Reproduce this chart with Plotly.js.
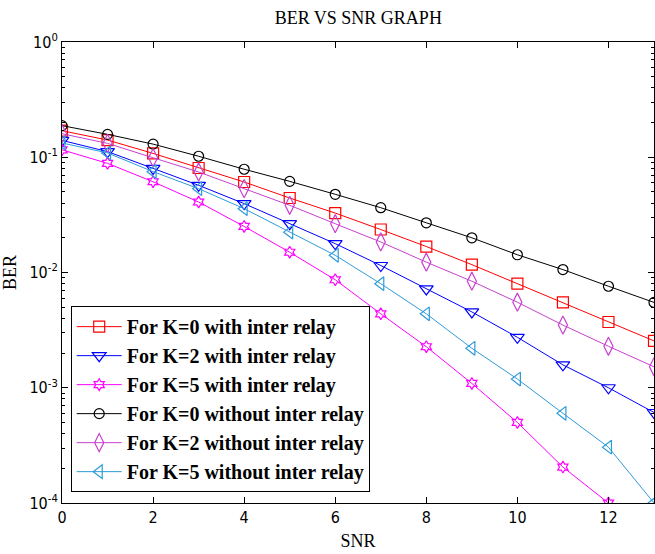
<!DOCTYPE html>
<html>
<head>
<meta charset="utf-8">
<script src="https://cdn.plot.ly/plotly-3.0.1.min.js"></script>
<style>html,body{margin:0;padding:0;background:#fff;}#chart{width:655px;height:554px;}</style>
</head>
<body>
<div id="chart"></div>
<script>
const snr = [0,1,2,3,4,5,6,7,8,9,10,11,12,13];
const snrK5with = [0,1,2,3,4,5,6,7,8,9,10,11,12];

const berK0with    = [0.170,0.141,0.108,0.0807,0.061,0.0443,0.0328,0.0236,0.0168,0.0117,0.0080,0.0055,0.00372,0.00255];
const berK2with    = [0.140,0.112,0.080,0.0571,0.0396,0.0265,0.0178,0.0115,0.0072,0.00455,0.00274,0.00158,0.00100,0.00061];
const berK5with    = [0.116,0.0885,0.0613,0.0409,0.0251,0.0150,0.00865,0.00438,0.00227,0.00109,0.00050,0.000205,0.000100];
const berK0without = [0.188,0.158,0.130,0.102,0.0787,0.0618,0.0477,0.0365,0.0270,0.0200,0.01425,0.0106,0.0076,0.0055];
const berK2without = [0.160,0.132,0.099,0.0745,0.0534,0.0383,0.0265,0.0184,0.0123,0.0084,0.00552,0.00350,0.00229,0.00152];
const berK5without = [0.133,0.109,0.075,0.0534,0.0358,0.0224,0.0141,0.0080,0.00438,0.0022,0.00119,0.00060,0.000305,0.000100];

const names = [
  'For K=0 with inter relay',
  'For K=2 with inter relay',
  'For K=5 with inter relay',
  'For K=0 without inter relay',
  'For K=2 without inter relay',
  'For K=5 without inter relay'
];

const yTickVals = [1e-4, 1e-3, 1e-2, 1e-1, 1];
const yTickText = ['10<sup>-4</sup>', '10<sup>-3</sup>', '10<sup>-2</sup>', '10<sup>-1</sup>', '10<sup>0</sup>'];
const yMinorVals = [];
[1e-4, 1e-3, 1e-2, 1e-1].forEach(function (d) { for (let k = 2; k <= 9; k++) yMinorVals.push(k * d); });

function tr(x, y, name, color, symbol, size, g) {
  return {
    x: x, y: y, name: name, type: 'scatter', mode: 'lines+markers',
    legendgroup: g,
    line: {color: color, width: 1},
    marker: {symbol: symbol, size: size, color: color, line: {color: color, width: 1.2}},
    cliponaxis: true
  };
}

const data = [
  tr(snr, berK0with, names[0], '#ff0000', 'square-open', 11, 'g1'),
  tr(snr, berK2with, names[1], '#0000ff', 'triangle-down-open', 12, 'g2'),
  tr(snrK5with, berK5with, names[2], '#ff00ff', 'hexagram-open', 9, 'g3'),
  tr(snr, berK0without, names[3], '#000000', 'circle-open', 10, 'g4'),
  tr(snr, berK2without, names[4], '#c840d0', 'diamond-tall-open', 13, 'g5'),
  tr(snr, berK5without, names[5], '#2e9bd8', 'triangle-left-open', 12, 'g6')
];

const tickFont = {family: 'Liberation Sans Narrow, Arial Narrow, DejaVu Sans Condensed, sans-serif', size: 16, color: '#000'};
const serif = 'Liberation Serif, Times New Roman, serif';

const layout = {
  width: 655, height: 554,
  margin: {l: 62, r: 1, t: 42, b: 51},
  paper_bgcolor: '#fff', plot_bgcolor: '#fff',
  title: {text: 'BER VS SNR GRAPH', font: {family: serif, size: 18, color: '#000'}, x: 0.547, xanchor: 'center', y: 0.968, yanchor: 'middle'},
  xaxis: {
    range: [0, 13], dtick: 2, tick0: 0,
    ticks: 'inside', ticklen: 6, tickcolor: '#000', tickwidth: 1,
    showline: true, linecolor: '#000', linewidth: 1, mirror: 'ticks',
    showgrid: false, zeroline: false,
    tickfont: tickFont,
    title: {text: 'SNR', font: {family: serif, size: 18, color: '#000'}, standoff: 8}
  },
  yaxis: {
    type: 'log', range: [-4, 0],
    tickmode: 'array', tickvals: yTickVals, ticktext: yTickText,
    ticks: 'inside', ticklen: 6, tickcolor: '#000', tickwidth: 1,
    minor: {tickmode: 'array', tickvals: yMinorVals, ticks: 'inside', ticklen: 3, tickcolor: '#000', showgrid: false},
    showline: true, linecolor: '#000', linewidth: 1, mirror: 'ticks',
    showgrid: false, zeroline: false,
    tickfont: tickFont,
    title: {text: 'BER', font: {family: serif, size: 18, color: '#000'}, standoff: 8}
  },
  legend: {
    x: 0.0147, y: 0.427, xanchor: 'left', yanchor: 'top',
    bgcolor: '#fff', bordercolor: '#000', borderwidth: 1,
    font: {family: serif, size: 20, color: '#000', weight: 'bold'},
    tracegroupgap: 12, itemwidth: 45,
    traceorder: 'normal'
  },
  showlegend: true
};

Plotly.newPlot('chart', data, layout, {displayModeBar: false, staticPlot: true});
</script>
</body>
</html>
